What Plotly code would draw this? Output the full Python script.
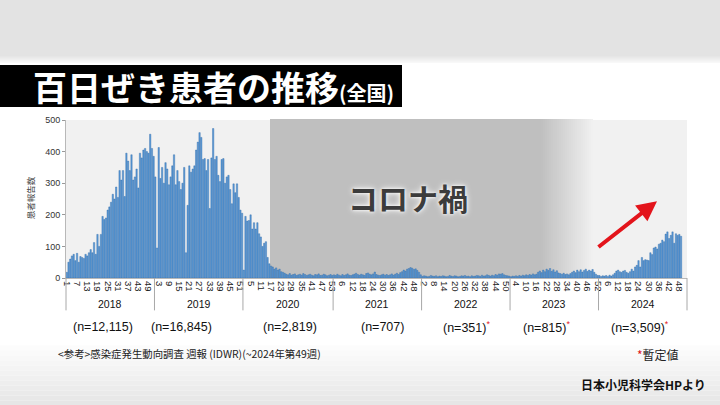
import plotly.graph_objects as go

# ---------------- data (weekly pertussis reports) ----------------
years = ["2018", "2019", "2020", "2021", "2022", "2023", "2024"]
weeks_in_year = [52, 52, 53, 52, 52, 52, 52]
year_totals = ["(n=12,115)", "(n=16,845)", "(n=2,819)", "(n=707)",
               "(n=351)", "(n=815)", "(n=3,509)"]
provisional = [False, False, False, False, True, True, True]

w2018 = [18, 50, 60, 70, 75, 55, 78, 50, 68, 65, 62, 75, 70, 80, 90, 80, 112, 75,
         138, 100, 138, 195, 185, 190, 215, 225, 240, 265, 250, 288, 255, 340, 310,
         340, 258, 395, 370, 340, 390, 310, 320, 345, 285, 395, 380, 405, 410, 400,
         395, 455, 410, 385]
w2019 = [320, 95, 413, 315, 350, 300, 365, 345, 295, 320, 355, 390, 295, 340, 305,
         280, 300, 350, 80, 230, 355, 335, 345, 355, 405, 430, 460, 445, 375, 378,
         340, 375, 220, 380, 473, 375, 385, 325, 305, 375, 378, 300, 320, 325, 280,
         235, 298, 270, 298, 255, 215, 205]
w2020 = [25, 195, 180, 182, 200, 155, 175, 155, 175, 140, 130, 100, 110, 115, 65, 45,
         38, 35, 28, 32, 25, 28, 20, 18, 15, 12, 10, 14, 9, 11, 13, 8, 10, 12, 9, 14,
         11, 8, 10, 12, 9, 7, 11, 10, 13, 8, 9, 12, 10, 7, 9, 11, 8]
w2021 = [10, 8, 12, 9, 7, 11, 8, 10, 13, 9, 8, 10, 12, 15, 11, 9, 12, 10, 8, 14,
         16, 12, 10, 13, 19, 11, 9, 8, 10, 12, 9, 11, 8, 10, 13, 9, 12, 15, 11, 17,
         20, 25, 22, 28, 30, 33, 31, 27, 29, 24, 18, 10]
w2022 = [5, 7, 6, 4, 5, 8, 6, 5, 7, 4, 6, 5, 7, 6, 4, 5, 8, 6, 5, 7,
         6, 4, 5, 7, 6, 8, 5, 6, 4, 7, 5, 6, 8, 7, 5, 9, 6, 7, 10, 8,
         6, 9, 7, 11, 9, 13, 12, 14, 10, 8, 7, 6]
w2023 = [4, 6, 5, 7, 5, 8, 6, 9, 7, 10, 8, 11, 9, 13, 10, 12, 18, 22, 17, 25,
         20, 28, 24, 30, 21, 26, 19, 23, 16, 14, 12, 15, 11, 13, 10, 14, 18, 22, 17, 25,
         20, 26, 19, 24, 28, 21, 25, 22, 27, 18, 12, 8]
w2024 = [8, 5, 7, 6, 8, 5, 9, 6, 10, 15, 22, 25, 20, 18, 22, 24, 18, 15, 20, 28,
         22, 35, 40, 55, 35, 65, 55, 58, 57, 55, 80, 74, 95, 98, 92, 107, 110, 120,
         115, 139, 146, 125, 135, 146, 110, 140, 135, 138, 132]
series = [w2018, w2019, w2020, w2021, w2022, w2023, w2024]

y_ticks = [0, 100, 200, 300, 400, 500]

# ---------------- geometry helpers (pixel -> paper) ----------------
X0, X1 = 66, 687          # plot left / right in px
YB, YT = 277.7, 120.0     # value 0 / value 500 in px
W, H = 720, 405


def px(x):
    return (x - X0) / (X1 - X0)


def py(y):
    return (YB - y) / (YB - YT)


# slots
offsets = []
o = 0
for n in weeks_in_year:
    offsets.append(o)
    o += n
n_slots = o

xs, ys = [], []
for off, vals in zip(offsets, series):
    for i, v in enumerate(vals):
        xs.append(off + i)
        ys.append(v)

tickvals, ticktext = [], []
for s in range(0, n_slots, 6):
    yi = max(i for i, off in enumerate(offsets) if off <= s)
    tickvals.append(s)
    ticktext.append(str(s - offsets[yi] + 1))

fig = go.Figure()
fig.add_trace(go.Bar(
    x=xs, y=ys,
    marker=dict(color="#5b9bd8", line=dict(color="#2d68a6", width=0.4)),
    hoverinfo="skip",
))

shapes = []
# page background bands
shapes.append(dict(type="rect", xref="paper", yref="paper",
                   x0=px(0), x1=px(W), y0=py(0), y1=py(63),
                   fillcolor="#e3e3e3", line_width=0, layer="below"))
for k in range(8):
    c = 227 + k * 3
    shapes.append(dict(type="rect", xref="paper", yref="paper",
                       x0=px(0), x1=px(W), y0=py(55 + k), y1=py(56 + k),
                       fillcolor=f"rgb({c},{c},{c})", line_width=0, layer="below"))
for k in range(12):
    c = 252 - k * 2
    shapes.append(dict(type="rect", xref="paper", yref="paper",
                       x0=px(0), x1=px(W), y0=py(345 + k * 5), y1=py(350 + k * 5),
                       fillcolor=f"rgb({c},{c},{c})", line_width=0, layer="below"))
# title bar
shapes.append(dict(type="rect", xref="paper", yref="paper",
                   x0=px(0), x1=px(402), y0=py(107), y1=py(65),
                   fillcolor="#000000", line_width=0, layer="below"))
# corona shading (solid + gradient)
shapes.append(dict(type="rect", xref="paper", yref="paper",
                   x0=px(270), x1=px(541), y0=0, y1=py(119),
                   fillcolor="#bfbfbf", line_width=0, layer="below"))
steps = 26
for k in range(steps):
    t = (k + 0.5) / steps
    c = int(round(191 + (241 - 191) * t))
    shapes.append(dict(type="rect", xref="paper", yref="paper",
                       x0=px(541 + k * 2), x1=px(543 + k * 2), y0=0, y1=py(119),
                       fillcolor=f"rgb({c},{c},{c})", line_width=0, layer="below"))
# year separators
bounds = offsets + [n_slots]
for b in bounds:
    xb = (b) / n_slots
    shapes.append(dict(type="line", xref="paper", yref="paper",
                       x0=xb, x1=xb, y0=0, y1=py(310),
                       line=dict(color="#a8a8a8", width=1)))

ann = []
# title
ann.append(dict(xref="paper", yref="paper", x=px(31), y=py(87),
                xanchor="left", yanchor="middle", showarrow=False,
                text="百日ぜき患者の推移<span style='font-size:20px'>(全国)</span>",
                font=dict(family="Noto Sans CJK JP", size=34, color="#ffffff",
                          weight="bold")))
# y axis title
ann.append(dict(xref="paper", yref="paper", x=px(30), y=py(198),
                xanchor="center", yanchor="middle", showarrow=False, textangle=-90,
                text="患者報告数",
                font=dict(family="Noto Sans CJK JP", size=8.5, color="#444444")))
# year labels and totals
nx = [103, 181, 290, 382, 466, 546, 640]
for i, yr in enumerate(years):
    cx = (offsets[i] + weeks_in_year[i] / 2) / n_slots
    ann.append(dict(xref="paper", yref="paper", x=cx, y=py(304),
                    xanchor="center", yanchor="middle", showarrow=False,
                    text=yr, font=dict(family="Liberation Sans", size=10.5, color="#111111")))
    t = year_totals[i]
    if provisional[i]:
        t += "<sup><span style='color:#e0141b'>*</span></sup>"
    ann.append(dict(xref="paper", yref="paper", x=px(nx[i]), y=py(327),
                    xanchor="center", yanchor="middle", showarrow=False,
                    text=t, font=dict(family="Liberation Sans", size=12.5, color="#111111")))
# source notes
ann.append(dict(xref="paper", yref="paper", x=px(56), y=py(353),
                xanchor="left", yanchor="middle", showarrow=False,
                text="&lt;参考&gt;感染症発生動向調査 週報 (IDWR)(~2024年第49週)",
                font=dict(family="Noto Sans CJK JP", size=10.4, color="#222222")))
ann.append(dict(xref="paper", yref="paper", x=px(681), y=py(354),
                xanchor="right", yanchor="middle", showarrow=False,
                text="<span style='color:#e0141b'>*</span>暫定値",
                font=dict(family="Noto Sans CJK JP", size=12, color="#222222")))
ann.append(dict(xref="paper", yref="paper", x=px(708), y=py(384),
                xanchor="right", yanchor="middle", showarrow=False,
                text="日本小児科学会HPより",
                font=dict(family="Noto Sans CJK JP", size=12, color="#111111",
                          weight="bold")))
# corona text
ann.append(dict(xref="paper", yref="paper", x=px(408), y=py(197),
                xanchor="center", yanchor="middle", showarrow=False,
                text="コロナ禍",
                font=dict(family="Noto Sans CJK JP", size=30, color="#3c3c3c",
                          weight="bold",
                          shadow="0px 0px 3px #ffffff, 0px 0px 6px #ffffff")))
# red arrow
ann.append(dict(xref="paper", yref="paper", x=px(657), y=py(201),
                ax=-60, ay=47, axref="pixel", ayref="pixel",
                showarrow=True, text="", arrowhead=2, arrowsize=1,
                arrowwidth=4, arrowcolor="#e3141b", standoff=0))

fig.update_layout(
    width=W, height=H, autosize=False,
    margin=dict(l=X0, r=W - X1, t=int(YT), b=int(round(H - YB))),
    paper_bgcolor="#ffffff", plot_bgcolor="#f1f1f1",
    bargap=0.2, showlegend=False,
    shapes=shapes, annotations=ann,
    xaxis=dict(range=[-0.5, n_slots - 0.5], tickmode="array",
               tickvals=tickvals, ticktext=ticktext, tickangle=90,
               tickfont=dict(family="Liberation Sans", size=9.5, color="#222222"),
               showgrid=False, zeroline=False, showline=True,
               linecolor="#b8b8b8", ticks="", fixedrange=True),
    yaxis=dict(range=[0, 500], tickmode="array", tickvals=y_ticks,
               tickfont=dict(family="Liberation Sans", size=9, color="#333333"),
               showgrid=False, zeroline=False, showline=True,
               linecolor="#b8b8b8", ticks="outside", ticklen=3,
               tickcolor="#999999", fixedrange=True),
)

fig.write_html(
    "out.html",
    config={"displayModeBar": False},
    post_script="document.body.style.margin='0';document.body.style.overflow='hidden';",
)
